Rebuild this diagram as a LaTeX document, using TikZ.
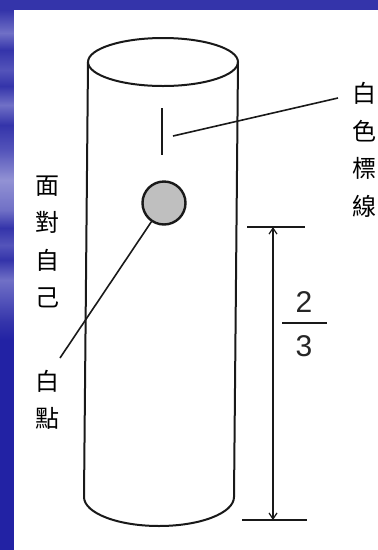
\documentclass[tikz,border=0pt]{standalone}
\usepackage{fontspec}
\setmainfont{Liberation Sans}
\newfontfamily\cjk{Noto Sans CJK TC}
\usetikzlibrary{arrows.meta}
\definecolor{slideblue}{RGB}{52,52,170}
\definecolor{deepblue}{RGB}{34,34,164}
\definecolor{midblue}{RGB}{84,84,186}
\definecolor{paleblue}{RGB}{112,112,198}
\definecolor{glowblue}{RGB}{146,146,212}
\tikzset{
  outline/.style={line width=2pt, black!90},
  leader/.style={line width=1.6pt, black!90},
  dimline/.style={line width=1.2pt, black!90},
  cjklabel/.style={align=center, inner sep=0pt, text=black,
    font=\cjk\fontsize{24}{37.5}\selectfont},
  digit/.style={inner sep=0pt, text=black!85, font=\fontsize{30}{30}\selectfont},
}
\newcommand{\band}[4]{\shade[top color=#2, bottom color=#4] (0,-#1) rectangle (14,-#3);}
\begin{document}
\begin{tikzpicture}[x=1pt,y=1pt]
\useasboundingbox (0,0) rectangle (378,-550);
% slide background: blue frame with a banded left stripe
\fill[slideblue] (0,0) rectangle (378,-550);
\band{10}{slideblue}{33}{paleblue}
\band{33}{paleblue}{50}{slideblue}
\band{50}{slideblue}{70}{midblue}
\band{70}{midblue}{86}{slideblue}
\band{86}{slideblue}{105}{paleblue}
\band{105}{paleblue}{125}{slideblue}
\band{125}{slideblue}{150}{midblue}
\band{150}{midblue}{180}{glowblue}
\band{180}{glowblue}{210}{paleblue}
\band{210}{paleblue}{228}{slideblue}
\band{228}{slideblue}{245}{midblue}
\band{245}{midblue}{260}{slideblue}
\band{260}{slideblue}{280}{paleblue}
\band{280}{paleblue}{300}{midblue}
\band{300}{midblue}{322}{slideblue}
\band{322}{slideblue}{340}{deepblue}
\fill[deepblue] (0,-340) rectangle (14,-550);
\fill[white] (14,-10) rectangle (378,-550);

% cylinder
\draw[outline] (163,-62) ellipse[x radius=75, y radius=24];
\draw[outline, line join=round]
  (88,-62) -- (84,-497)
  arc[start angle=180, end angle=360, x radius=75, y radius=29]
  -- (238,-62);

% white mark and its label
\coordinate (markTop) at (162,-108);
\coordinate (markBot) at (162,-155);
\draw[leader] (markTop) -- (markBot);
\coordinate (markLead) at (173,-136);
\node[cjklabel] (lineLabel) at (364,-150) {白\\色\\標\\線};
\coordinate (lineLeadEnd) at (338,-98);
\draw[leader] (markLead) -- (lineLeadEnd);

% white dot
\node[circle, draw=black!90, line width=2.4pt, fill=black!25,
      minimum size=43pt, inner sep=0pt] (dot) at (164,-203) {};
\node[cjklabel] (dotLabel) at (47,-400) {白\\點};
\coordinate (dotLeadEnd) at (60,-358);
\draw[leader] (dot.236) -- (dotLeadEnd);

% facing side label
\node[cjklabel] (faceLabel) at (47,-242) {面\\對\\自\\己};

% two-thirds height dimension
\coordinate (tickTopL) at (247,-227);
\coordinate (tickTopR) at (305,-227);
\coordinate (tickBotL) at (242,-520);
\coordinate (tickBotR) at (307,-520);
\draw[dimline] (tickTopL) -- (tickTopR);
\draw[dimline] (tickBotL) -- (tickBotR);
\coordinate (dimTop) at (273,-227);
\coordinate (dimBot) at (273,-520);
\draw[dimline, {Straight Barb[length=6pt,width=8pt]}-{Straight Barb[length=6pt,width=8pt]}]
  (dimTop) -- (dimBot);

\node[digit] (num) at (304,-302) {2};
\node[digit] (den) at (304,-346) {3};
\coordinate (barL) at (282,-323);
\coordinate (barR) at (327,-323);
\draw[dimline] (barL) -- (barR);
\end{tikzpicture}
\end{document}
